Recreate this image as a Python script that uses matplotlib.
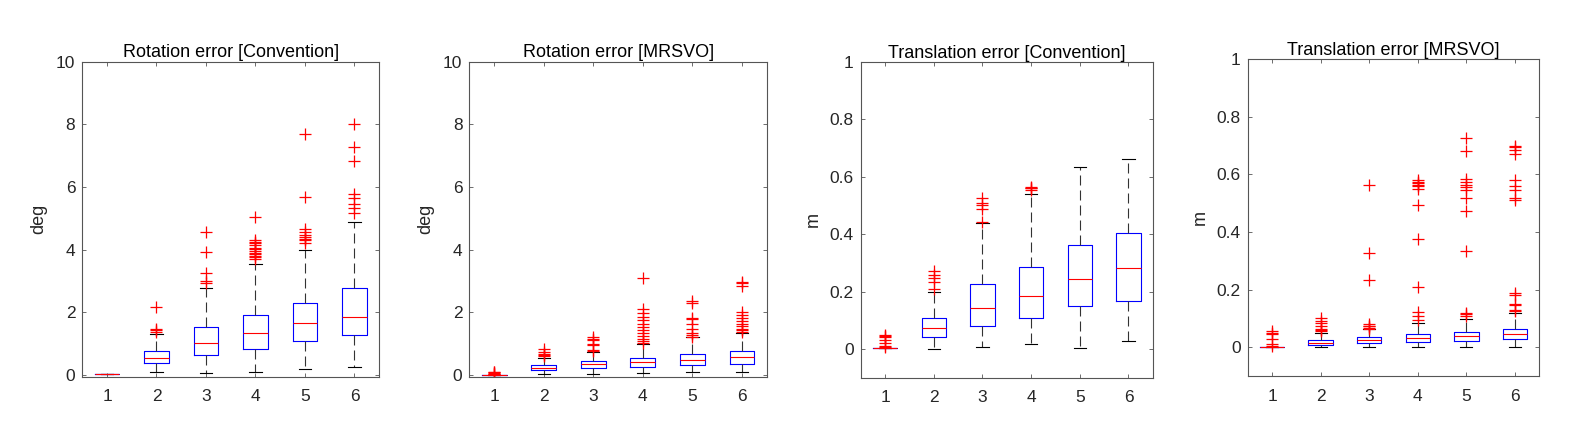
import numpy as np
import matplotlib
matplotlib.use('Agg')
import matplotlib.pyplot as plt

plt.rcParams['font.family'] = ['Liberation Sans', 'DejaVu Sans']

groups = [1, 2, 3, 4, 5, 6]

# Rotation error [Convention]
rc_med = [0.02, 0.55, 1.02, 1.33, 1.65, 1.86]
rc_q1 = [0.02, 0.37, 0.63, 0.82, 1.09, 1.28]
rc_q3 = [0.02, 0.78, 1.52, 1.91, 2.29, 2.77]
rc_lo = [0.02, 0.085, 0.07, 0.085, 0.18, 0.27]
rc_hi = [0.02, 1.32, 2.77, 3.53, 3.98, 4.87]
rc_out = [[],
          [1.38, 1.42, 1.47, 2.16],
          [2.95, 3.0, 3.24, 3.91, 4.56],
          [3.71, 3.75, 3.8, 3.85, 3.9, 3.95, 4.01, 4.05, 4.15, 4.2, 4.25, 4.31, 5.05],
          [4.2, 4.3, 4.33, 4.4, 4.47, 4.57, 4.65, 5.69, 7.69],
          [5.18, 5.32, 5.46, 5.66, 5.77, 6.84, 7.29, 8.01]]

# Rotation error [MRSVO]
rm_med = [0.01, 0.23, 0.36, 0.40, 0.47, 0.57]
rm_q1 = [0.01, 0.16, 0.23, 0.25, 0.31, 0.35]
rm_q3 = [0.01, 0.33, 0.45, 0.55, 0.68, 0.77]
rm_lo = [0.01, 0.03, 0.04, 0.06, 0.10, 0.10]
rm_hi = [0.01, 0.53, 0.74, 0.99, 1.20, 1.35]
rm_out = [[0.02, 0.04, 0.06, 0.085, 0.1],
          [0.6, 0.64, 0.68, 0.74, 0.82],
          [0.78, 0.8, 0.96, 1.0, 1.12, 1.15, 1.2],
          [1.03, 1.08, 1.15, 1.25, 1.33, 1.42, 1.52, 1.62, 1.75, 1.85, 1.98, 2.1, 3.09],
          [1.22, 1.28, 1.35, 1.48, 1.62, 1.78, 1.82, 2.3, 2.35],
          [1.38, 1.42, 1.48, 1.55, 1.62, 1.72, 1.82, 1.92, 2.0, 2.85, 2.92, 2.98]]

# Translation error [Convention]
tc_med = [0.002, 0.074, 0.144, 0.186, 0.242, 0.281]
tc_q1 = [0.002, 0.042, 0.079, 0.107, 0.148, 0.167]
tc_q3 = [0.002, 0.107, 0.225, 0.284, 0.363, 0.403]
tc_lo = [0.002, 0.0, 0.008, 0.016, 0.002, 0.027]
tc_hi = [0.002, 0.20, 0.438, 0.538, 0.635, 0.66]
tc_out = [[0.006, 0.01, 0.02, 0.031, 0.04, 0.045, 0.05],
          [0.21, 0.234, 0.246, 0.258, 0.27],
          [0.443, 0.488, 0.5, 0.507, 0.527],
          [0.555, 0.559, 0.562, 0.565],
          [],
          []]

# Translation error [MRSVO]
tm_med = [0.001, 0.016, 0.024, 0.031, 0.039, 0.045]
tm_q1 = [0.001, 0.009, 0.015, 0.017, 0.020, 0.028]
tm_q3 = [0.001, 0.025, 0.035, 0.046, 0.054, 0.065]
tm_lo = [0.001, 0.0, 0.0, 0.002, 0.0, 0.002]
tm_hi = [0.001, 0.05, 0.063, 0.085, 0.099, 0.12]
tm_out = [[0.005, 0.01, 0.03, 0.045, 0.05, 0.055],
          [0.055, 0.06, 0.065, 0.075, 0.083, 0.09, 0.1],
          [0.065, 0.068, 0.072, 0.075, 0.08, 0.233, 0.326, 0.563],
          [0.093, 0.108, 0.122, 0.21, 0.375, 0.495, 0.55, 0.56, 0.565, 0.57, 0.575, 0.58],
          [0.11, 0.115, 0.12, 0.335, 0.474, 0.52, 0.545, 0.555, 0.565, 0.575, 0.585, 0.68, 0.727],
          [0.125, 0.13, 0.148, 0.15, 0.18, 0.19, 0.51, 0.52, 0.545, 0.56, 0.58, 0.67, 0.685, 0.695, 0.7]]

titles = ['Rotation error [Convention]', 'Rotation error [MRSVO]',
          'Translation error [Convention]', 'Translation error [MRSVO]']
ylabels = ['deg', 'deg', 'm', 'm']


def make_stats(med, q1, q3, lo, hi, out):
    stats = []
    for i in range(len(groups)):
        stats.append(dict(med=med[i], q1=q1[i], q3=q3[i], whislo=lo[i],
                          whishi=hi[i], fliers=out[i], label=str(groups[i])))
    return stats


panels = [make_stats(rc_med, rc_q1, rc_q3, rc_lo, rc_hi, rc_out),
          make_stats(rm_med, rm_q1, rm_q3, rm_lo, rm_hi, rm_out),
          make_stats(tc_med, tc_q1, tc_q3, tc_lo, tc_hi, tc_out),
          make_stats(tm_med, tm_q1, tm_q3, tm_lo, tm_hi, tm_out)]

positions = [[0.0520, 0.1497, 0.1877, 0.7111],
             [0.2967, 0.1497, 0.1880, 0.7111],
             [0.5441, 0.1474, 0.1846, 0.7133],
             [0.7887, 0.1512, 0.1843, 0.7149]]
ylims = [(-0.055, 10), (-0.055, 10), (-0.1, 1), (-0.1, 1)]
yticks = [np.arange(0, 11, 2), np.arange(0, 11, 2),
          np.arange(0, 1.01, 0.2), np.arange(0, 1.01, 0.2)]

fig = plt.figure(figsize=(15.82, 4.43), dpi=100)
for k in range(4):
    ax = fig.add_axes(positions[k])
    ax.bxp(panels[k], positions=groups, widths=0.5, capwidths=0.25,
           boxprops=dict(color='blue', linewidth=0.8),
           medianprops=dict(color='red', linewidth=0.8),
           whiskerprops=dict(color='#333333', linewidth=0.8, linestyle=(0, (9, 4.5))),
           capprops=dict(color='black', linewidth=0.8),
           flierprops=dict(marker='+', markeredgecolor='red', markersize=8.5,
                           markeredgewidth=0.9, linestyle='none'))
    ax.set_xlim(0.5, 6.5)
    ax.set_ylim(*ylims[k])
    ax.set_yticks(yticks[k])
    ax.yaxis.set_major_formatter(plt.FuncFormatter(lambda v, p: f'{v:g}'))
    ax.tick_params(direction='in', length=3, width=0.6, top=True, right=True,
                   labelsize=12.5, colors='#555555', labelcolor='#262626')
    ax.tick_params(axis='x', pad=9)
    ax.tick_params(axis='y', pad=5)
    for s in ax.spines.values():
        s.set_color('#555555')
        s.set_linewidth(0.8)
    ax.set_title(titles[k], fontsize=13, color='black', pad=3)
    ax.set_ylabel(ylabels[k], fontsize=13, color='#262626', labelpad=6)

plt.savefig('out.png')
plt.close()
